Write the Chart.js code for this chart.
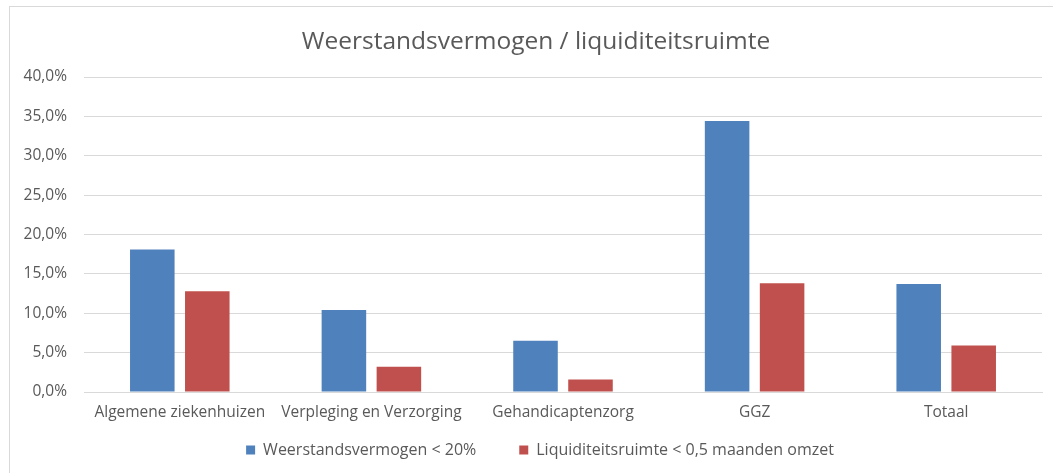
<!DOCTYPE html>
<html>
<head>
<meta charset="utf-8">
<script src="https://cdn.jsdelivr.net/npm/chart.js@4"></script>
<style>
html,body{margin:0;padding:0;background:#fff;overflow:hidden;width:1053px;height:473px;}
#frame{position:absolute;left:9px;top:6px;width:1060px;height:502px;border:1px solid #d9d9d9;background:#fff;}
canvas{display:block;}
</style>
</head>
<body>
<div id="frame"><canvas id="c" width="1060" height="502"></canvas></div>
<script>
const chartTitle = "Weerstandsvermogen / liquiditeitsruimte";
const categories = ["Algemene ziekenhuizen", "Verpleging en Verzorging", "Gehandicaptenzorg", "GGZ", "Totaal"];
const seriesNames = ["Weerstandsvermogen < 20%", "Liquiditeitsruimte < 0,5 maanden omzet"];
const weerstand = [18.1, 10.4, 6.5, 34.4, 13.7];
const liquiditeit = [12.8, 3.2, 1.6, 13.8, 5.9];
const yMin = 0, yMax = 40, yStep = 5;

const FONT = "'Open Sans', 'Noto Sans', sans-serif";
const GREY = "#595959";

// Excel-style placement: title/legend centred on the full chart frame,
// legend row pulled up while keeping wide horizontal item spacing.
const boxShift = {
  id: 'boxShift',
  afterLayout(chart) {
    const lg = chart.legend;
    if (lg) {
      const h = lg.height;
      lg.top = 392; lg.bottom = lg.top + h;
      lg.left += 14; lg.right += 14;
    }
    const tb = chart.titleBlock;
    if (tb) { tb.left += 10; tb.right += 10; }
  }
};

new Chart(document.getElementById('c'), {
  type: 'bar',
  data: {
    labels: categories,
    datasets: [
      { label: seriesNames[0], data: weerstand, backgroundColor: '#4f81bd', borderWidth: 0,
        categoryPercentage: 0.574, barPercentage: 0.81 },
      { label: seriesNames[1], data: liquiditeit, backgroundColor: '#c0504d', borderWidth: 0,
        categoryPercentage: 0.574, barPercentage: 0.81 }
    ]
  },
  plugins: [boxShift],
  options: {
    responsive: false,
    animation: false,
    layout: { padding: { left: 0, right: 28, top: 18, bottom: 7.4 } },
    plugins: {
      title: { display: true, text: chartTitle, color: GREY,
        font: { family: FONT, size: 24.5, weight: 'normal' }, padding: { top: 2.3, bottom: 20.3 } },
      legend: { position: 'bottom',
        labels: { color: GREY, font: { family: FONT, size: 16 }, boxWidth: 9, boxHeight: 9, padding: 43 } },
      tooltip: { enabled: false }
    },
    scales: {
      x: {
        grid: { display: false, drawTicks: false },
        border: { color: '#d9d9d9', width: 1 },
        ticks: { color: GREY, font: { family: FONT, size: 15.5 }, padding: 11, maxRotation: 0, autoSkip: false }
      },
      y: {
        min: yMin, max: yMax,
        afterFit: (s) => { s.width = 74; },
        grid: { color: '#d9d9d9', lineWidth: 1, drawTicks: false },
        border: { display: false },
        ticks: { stepSize: yStep, color: GREY, font: { family: FONT, size: 15.5 }, padding: 17,
          callback: (v) => v.toFixed(1).replace('.', ',') + '%' }
      }
    }
  }
});
</script>
</body>
</html>
